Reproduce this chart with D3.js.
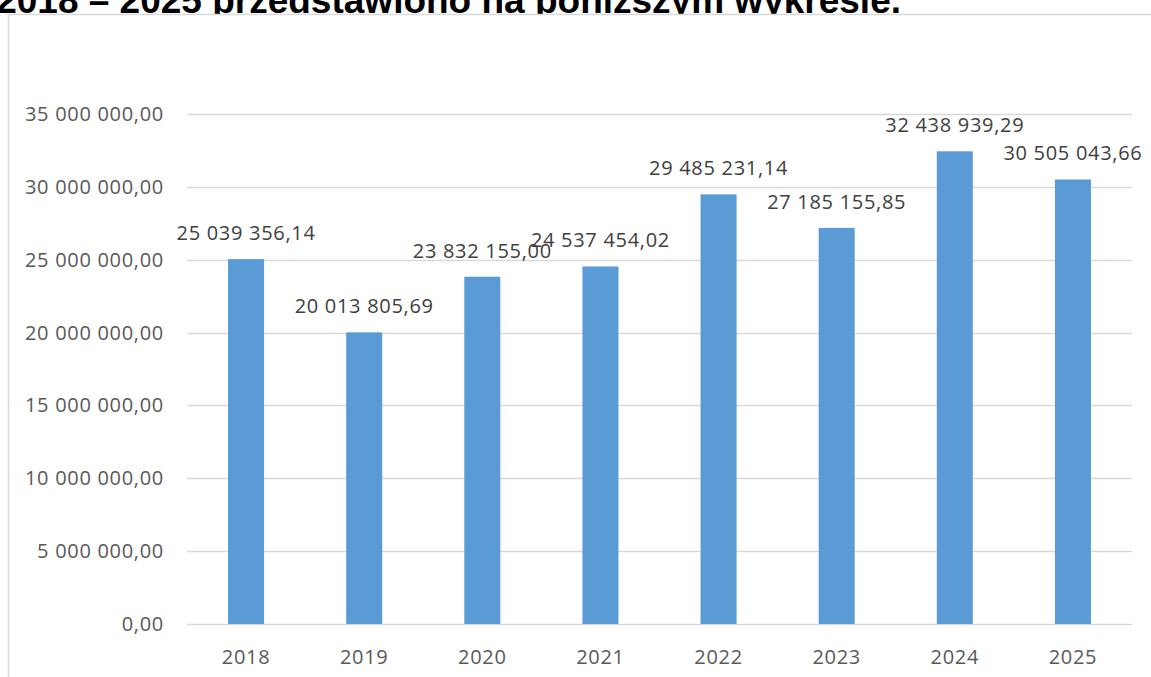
<!DOCTYPE html>
<html>
<head>
<meta charset="utf-8">
<script src="https://cdn.jsdelivr.net/npm/d3@7"></script>
<style>
  html, body { margin: 0; padding: 0; background: #fff; overflow: hidden; }
  svg { display: block; }
</style>
</head>
<body>
<svg id="chart"></svg>
<script>
// data
var years = ["2018", "2019", "2020", "2021", "2022", "2023", "2024", "2025"];
var values = [25039356.14, 20013805.69, 23832155.00, 24537454.02, 29485231.14, 27185155.85, 32438939.29, 30505043.66];
var yTicks = [0, 5000000, 10000000, 15000000, 20000000, 25000000, 30000000, 35000000];
var heading = "2018 – 2025 przedstawiono na poniższym wykresie.";

var W = 1151, H = 677;

// polish number format: "35 000 000,00"
var pl = d3.formatLocale({ decimal: ",", thousands: "\u00a0", grouping: [3], currency: ["", ""] });
var fmt = pl.format(",.2f");

var svg = d3.select("#chart")
    .attr("width", W)
    .attr("height", H);

// heading of the document, mostly hidden behind the chart box
svg.append("text")
    .attr("x", 901)
    .attr("y", 12.5)
    .attr("text-anchor", "end")
    .style("font-family", "'Liberation Sans', Arial, sans-serif")
    .style("font-weight", "bold")
    .style("font-size", "37px")
    .style("fill", "#000")
    .text(heading);

// chart box
svg.append("rect")
    .attr("x", 8.5)
    .attr("y", 14.5)
    .attr("width", W + 20)
    .attr("height", H + 20)
    .style("fill", "#fff")
    .style("stroke", "#d9d9d9")
    .style("stroke-width", 1.5);

// plot area (note: "top" is taken by window.top)
var pLeft = 187, pRight = 1132, pTop = 114, pBottom = 624;

var x = d3.scaleBand()
    .domain(years)
    .range([pLeft, pRight])
    .paddingInner(0.695)
    .paddingOuter(0.3475);

var y = d3.scaleLinear()
    .domain([0, 35000000])
    .range([pBottom, pTop]);

var font = "'Open Sans', 'Noto Sans', sans-serif";

function label(sel, color) {
  sel.style("font-family", font)
     .style("font-size", "20px")
     .style("letter-spacing", "0.7px")
     .style("fill", color);
}

// gridlines
svg.append("g")
  .selectAll("line")
  .data(yTicks)
  .enter().append("line")
    .attr("x1", pLeft)
    .attr("x2", pRight)
    .attr("y1", function(d) { return Math.round(y(d)) + 0.5; })
    .attr("y2", function(d) { return Math.round(y(d)) + 0.5; })
    .style("stroke", "#d9d9d9")
    .style("stroke-width", 1.3);

// y axis labels
svg.append("g")
  .selectAll("text")
  .data(yTicks)
  .enter().append("text")
    .attr("x", 164)
    .attr("y", function(d) { return y(d) + 7; })
    .attr("text-anchor", "end")
    .call(label, "#595959")
    .text(function(d) { return fmt(d); });

// bars
svg.append("g")
  .selectAll("rect")
  .data(values)
  .enter().append("rect")
    .attr("x", function(d, i) { return x(years[i]); })
    .attr("y", function(d) { return y(d); })
    .attr("width", x.bandwidth())
    .attr("height", function(d) { return y(0) - y(d); })
    .style("fill", "#5b9bd5");

// x axis labels
svg.append("g")
  .selectAll("text")
  .data(years)
  .enter().append("text")
    .attr("x", function(d) { return x(d) + x.bandwidth() / 2; })
    .attr("y", 664)
    .attr("text-anchor", "middle")
    .call(label, "#595959")
    .text(function(d) { return d; });

// data labels
svg.append("g")
  .selectAll("text")
  .data(values)
  .enter().append("text")
    .attr("x", function(d, i) { return x(years[i]) + x.bandwidth() / 2; })
    .attr("y", function(d) { return y(d) - 19; })
    .attr("text-anchor", "middle")
    .call(label, "#404040")
    .text(function(d) { return fmt(d); });
</script>
</body>
</html>
